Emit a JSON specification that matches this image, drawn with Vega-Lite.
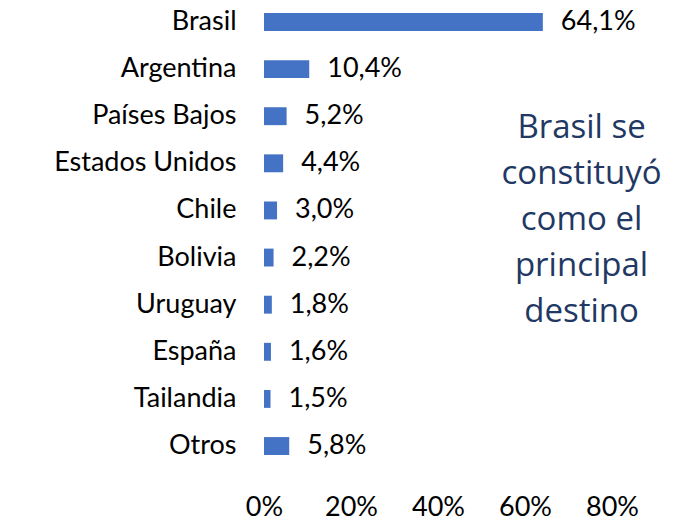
{
  "$schema": "https://vega.github.io/schema/vega-lite/v6.json",
  "width": 348,
  "height": 468,
  "autosize": {"type": "none"},
  "padding": {"left": 264, "top": 0, "right": 65, "bottom": 54},
  "background": "white",
  "config": {
    "view": {"stroke": null},
    "locale": {"number": {"decimal": ",", "thousands": ".", "grouping": [3], "currency": ["", " €"]}},
    "font": "Lato"
  },
  "datasets": {
    "paises": [
      {"pais": "Brasil", "valor": 0.641},
      {"pais": "Argentina", "valor": 0.104},
      {"pais": "Países Bajos", "valor": 0.052},
      {"pais": "Estados Unidos\u2002", "valor": 0.044},
      {"pais": "Chile", "valor": 0.030},
      {"pais": "Bolivia", "valor": 0.022},
      {"pais": "Uruguay", "valor": 0.018},
      {"pais": "España", "valor": 0.016},
      {"pais": "Tailandia", "valor": 0.015},
      {"pais": "Otros", "valor": 0.058}
    ],
    "nota": [
      {"nota": "Brasil se\nconstituyó\ncomo el\nprincipal\ndestino", "px": 0.73, "py": "Países Bajos"}
    ]
  },
  "layer": [
    {
      "data": {"name": "paises"},
      "mark": {"type": "bar", "color": "#4472C4"},
      "encoding": {
        "y": {
          "field": "pais",
          "type": "nominal",
          "sort": null,
          "scale": {"paddingInner": 0.62, "paddingOuter": 0.276},
          "axis": {
            "title": null,
            "domain": false,
            "ticks": false,
            "labelFontSize": 27,
            "labelColor": "#000000",
            "labelPadding": 28,
            "labelLimit": 400,
            "labelFont": "Lato"
          }
        },
        "x": {
          "field": "valor",
          "type": "quantitative",
          "scale": {"domain": [0, 0.8], "nice": false},
          "axis": {
            "title": null,
            "format": ".0%",
            "values": [0, 0.2, 0.4, 0.6, 0.8],
            "domain": false,
            "ticks": false,
            "grid": false,
            "labelFlush": false,
            "labelOverlap": false,
            "labelFontSize": 27,
            "labelColor": "#000000",
            "labelPadding": 26,
            "labelFont": "Lato"
          }
        }
      }
    },
    {
      "data": {"name": "paises"},
      "mark": {"type": "text", "align": "left", "baseline": "middle", "dx": 18, "fontSize": 27, "color": "#000000", "font": "Lato"},
      "encoding": {
        "y": {"field": "pais", "type": "nominal", "sort": null},
        "x": {"field": "valor", "type": "quantitative"},
        "text": {"field": "valor", "type": "quantitative", "format": ".1%"}
      }
    },
    {
      "data": {"name": "nota"},
      "mark": {"type": "text", "align": "center", "baseline": "middle", "dy": 12, "fontSize": 33, "lineHeight": 46, "lineBreak": "\n", "color": "#1F3864", "font": "Open Sans"},
      "encoding": {
        "text": {"field": "nota", "type": "nominal"},
        "x": {"field": "px", "type": "quantitative"},
        "y": {"field": "py", "type": "nominal", "sort": null}
      }
    }
  ]
}
